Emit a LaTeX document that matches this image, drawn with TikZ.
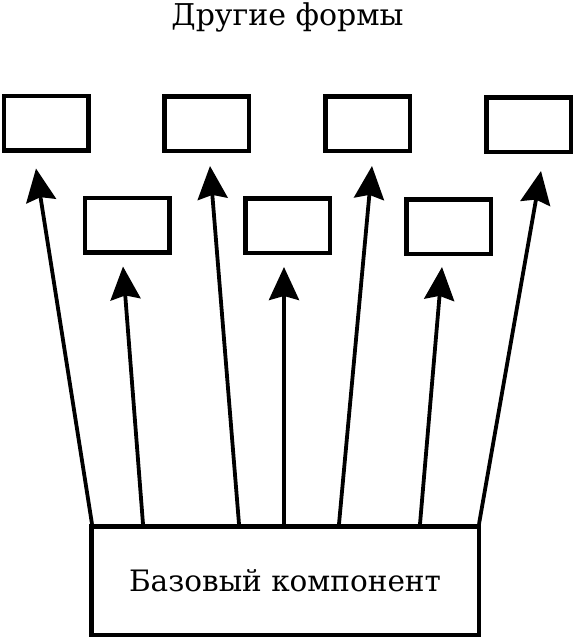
\documentclass[tikz,border=0pt]{standalone}
\usepackage{fontspec}
\setmainfont{DejaVu Serif}
\usetikzlibrary{arrows.meta}
\tikzset{
  form/.style={draw, line width=4.5pt, minimum width=84.5pt, minimum height=54.5pt},
  link/.style={line width=3.8pt, -{Stealth[length=33pt,width=30pt,inset=4pt]}}
}
\begin{document}
\begin{tikzpicture}[x=1pt,y=-1pt]
	\useasboundingbox (0,0) rectangle (575,641);
	\node (Title) [anchor=base] at (287.5,25) {\fontsize{30}{34}\selectfont Другие формы};

	\node (F1) [form] at (46,123) {};
	\node (F2) [form] at (206.5,123.5) {};
	\node (F3) [form] at (367.5,123.5) {};
	\node (F4) [form] at (528.5,124.5) {};

	\node (G1) [form] at (127,225) {};
	\node (G2) [form] at (287.5,225.5) {};
	\node (G3) [form] at (448.5,226.5) {};

	\node (Base) [draw, line width=4.5pt, minimum width=387.5pt, minimum height=108.5pt] at (285,580.5) {\raisebox{-7pt}{\fontsize{29.5}{34}\selectfont Базовый компонент}};

	\coordinate (S1) at ([xshift=3pt]Base.north west);
	\coordinate (S2) at ([xshift=54pt]Base.north west);
	\coordinate (S3) at ([xshift=150pt]Base.north west);
	\coordinate (S4) at ([xshift=195pt]Base.north west);
	\coordinate (S5) at ([xshift=250pt]Base.north west);
	\coordinate (S6) at ([xshift=331pt]Base.north west);
	\coordinate (S7) at ([xshift=390pt]Base.north west);

	\draw [link] (S1) -- ([xshift=-10pt,yshift=-16pt]F1.south);
	\draw [link] (S2) -- ([xshift=-4pt,yshift=-12pt]G1.south);
	\draw [link] (S3) -- ([xshift=3.5pt,yshift=-13pt]F2.south);
	\draw [link] (S4) -- ([xshift=-3.5pt,yshift=-12pt]G2.south);
	\draw [link] (S5) -- ([xshift=4.5pt,yshift=-13pt]F3.south);
	\draw [link] (S6) -- ([xshift=-6.5pt,yshift=-11pt]G3.south);
	\draw [link] (S7) -- ([xshift=12.5pt,yshift=-17pt]F4.south);
\end{tikzpicture}
\end{document}
